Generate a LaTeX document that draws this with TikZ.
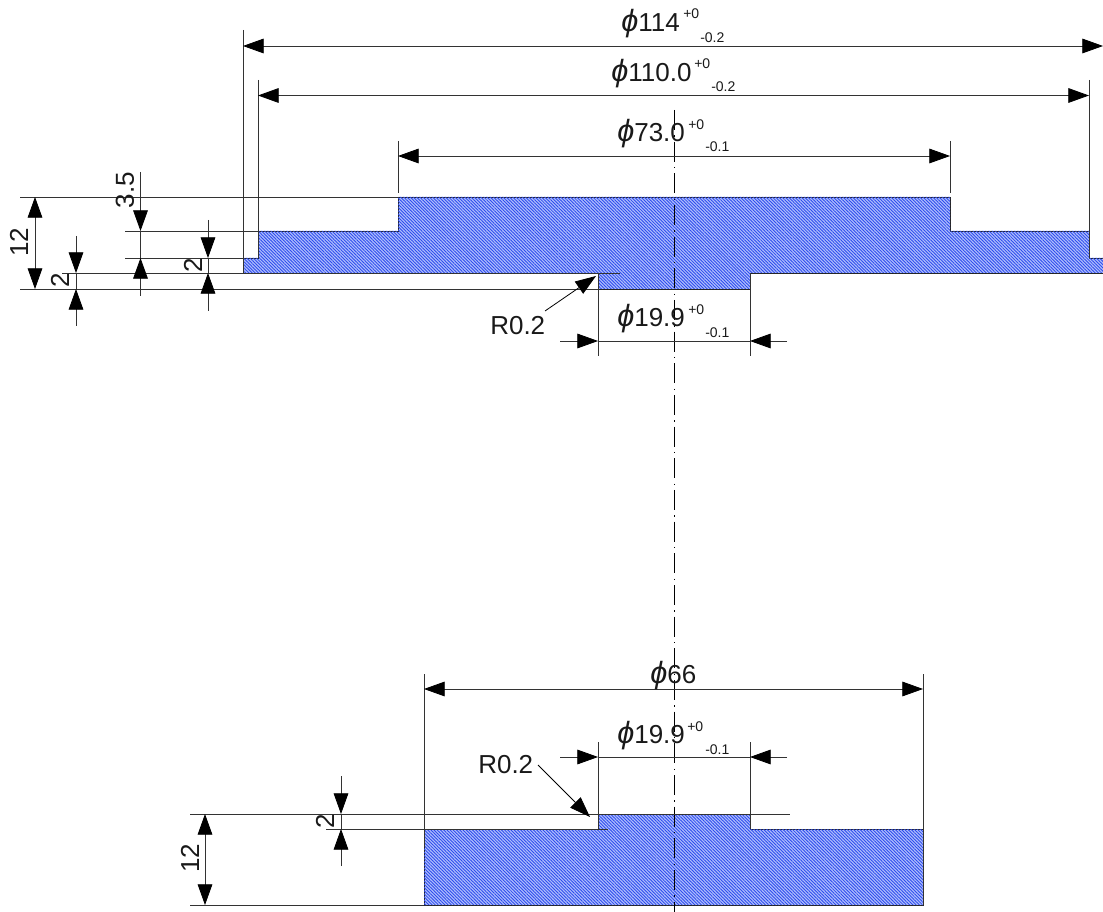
\documentclass[tikz,border=0pt]{standalone}
\usepackage{amssymb}
\usepackage{amsmath}
\usepackage{fontspec}
\setmainfont{Liberation Sans}
\usetikzlibrary{arrows.meta,patterns.meta}
\definecolor{hatchblue}{RGB}{45,75,238}
\definecolor{hatchback}{RGB}{175,190,252}
\newcommand{\dia}{{\fontsize{23}{23}\selectfont\itshape ϕ}}
\tikzset{
  section/.style  = {draw=black!85, line width=.7pt, fill=hatchback,
                     postaction={pattern={Lines[angle=-45,distance=1.7pt,line width=.65pt]},
                                 pattern color=hatchblue}},
  thinline/.style = {draw=black!80, line width=.6pt},
  dimline/.style  = {thinline, {Triangle[length=15.5pt,width=11pt,black]}-{Triangle[length=15.5pt,width=11pt,black]}},
  dimtail/.style  = {thinline, -{Triangle[length=15.5pt,width=11pt,black]}},
  leader/.style   = {draw=black, line width=.6pt, -{Triangle[length=15.5pt,width=11pt,black]}},
  axisline/.style = {draw=black, line width=.6pt, dash pattern=on 15pt off 4pt on 1pt off 3.75pt},
  dimtext/.style  = {font=\fontsize{19.5}{20}\selectfont, inner sep=0pt, text=black!90, anchor=base west},
  toltext/.style  = {font=\fontsize{10.5}{11}\selectfont, inner sep=0pt, text=black!90, anchor=base west},
  vertext/.style  = {font=\fontsize{19.5}{20}\selectfont, inner sep=0pt, text=black!90, rotate=90}
}
\begin{document}
\begin{tikzpicture}[x=.75pt, y=-.75pt]
\useasboundingbox (0,0) rectangle (1103,912);

% upper part
\path [section] (243,273) -- (243,258) -- (258,258) -- (258,231) -- (398,231) -- (398,197)
  -- (950,197) -- (950,231) -- (1089,231) -- (1089,258) -- (1103,258) -- (1103,273)
  -- (750,273) -- (750,289) -- (598,289) -- (598,273) -- cycle;

% lower part
\path [section] (424,829) -- (598,829) -- (598,814) -- (750,814) -- (750,829) -- (923,829)
  -- (923,905) -- (424,905) -- cycle;

% axis
\draw [axisline] (674,110) -- (674,912);

% extension lines, upper part
\draw [thinline] (243,30) -- (243,273);
\draw [thinline] (258,80) -- (258,258);
\draw [thinline] (1089,80) -- (1089,258);
\draw [thinline] (398,141) -- (398,193);
\draw [thinline] (950,141) -- (950,193);
\draw [thinline] (598,273) -- (598,356);
\draw [thinline] (750,273) -- (750,356);
\draw [thinline] (20,197) -- (398,197);
\draw [thinline] (125,231) -- (258,231);
\draw [thinline] (125,258) -- (243,258);
\draw [thinline] (62,273) -- (620,273);
\draw [thinline] (20,289) -- (598,289);

% extension lines, lower part
\draw [thinline] (424,674) -- (424,847);
\draw [thinline] (923,674) -- (923,905);
\draw [thinline] (598,742) -- (598,829);
\draw [thinline] (750,742) -- (750,829);
\draw [thinline] (190,814) -- (790,814);
\draw [thinline] (326,829) -- (608,829);
\draw [thinline] (190,905) -- (424,905);

% dimensions, upper part
\draw [dimline] (243,46) -- (1103,46);
\draw [dimline] (258,95.5) -- (1089,95.5);
\draw [dimline] (398,156) -- (950,156);
\draw [dimline] (35,197) -- (35,289);
\draw [thinline] (598,341) -- (750,341);
\draw [dimtail] (560,341) -- (598,341);
\draw [dimtail] (787,341) -- (750,341);
\draw [thinline] (76,273) -- (76,289);
\draw [dimtail] (76,236) -- (76,273);
\draw [dimtail] (76,326) -- (76,289);
\draw [thinline] (140.5,231) -- (140.5,258);
\draw [dimtail] (140.5,172) -- (140.5,231);
\draw [dimtail] (140.5,296) -- (140.5,258);
\draw [thinline] (208,258) -- (208,273);
\draw [dimtail] (208,220) -- (208,258);
\draw [dimtail] (208,311) -- (208,273);
\draw [leader] (545,311) -- (596,276);

% dimensions, lower part
\draw [dimline] (424,689) -- (923,689);
\draw [thinline] (598,757) -- (750,757);
\draw [dimtail] (560,757) -- (598,757);
\draw [dimtail] (787,757) -- (750,757);
\draw [dimline] (205,814) -- (205,905);
\draw [thinline] (341,814) -- (341,829);
\draw [dimtail] (341,776) -- (341,814);
\draw [dimtail] (341,866) -- (341,829);
\draw [leader] (538,765) -- (590,817);

% labels, upper part
\node [dimtext] (d114) at (621,32) {\dia114};
\node [toltext] (d114p) at (683,19) {+0};
\node [toltext] (d114m) at (700,43) {-0.2};
\node [dimtext] (d110) at (611,82) {\dia110.0};
\node [toltext] (d110p) at (694,69) {+0};
\node [toltext] (d110m) at (711,92) {-0.2};
\node [dimtext] (d73) at (617,141.7) {\dia73.0};
\node [toltext] (d73p) at (688,130) {+0};
\node [toltext] (d73m) at (705,152) {-0.1};
\node [dimtext] (d19a) at (617,327) {\dia19.9};
\node [toltext] (d19ap) at (688,315) {+0};
\node [toltext] (d19am) at (705,338) {-0.1};
\node [dimtext] (r02a) at (490,335) {R0.2};
\node [vertext] (h12a) at (19,242) {12};
\node [vertext] (h2a) at (60,280) {2};
\node [vertext] (h35) at (125,190) {3.5};
\node [vertext] (h2b) at (193,265) {2};

% labels, lower part
\node [dimtext] (d66) at (650,683) {\dia66};
\node [dimtext] (d19b) at (617,743) {\dia19.9};
\node [toltext] (d19bp) at (687,731) {+0};
\node [toltext] (d19bm) at (705,754) {-0.1};
\node [dimtext] (r02b) at (478,773) {R0.2};
\node [vertext] (h12b) at (190,858) {12};
\node [vertext] (h2c) at (325,821) {2};
\end{tikzpicture}
\end{document}
